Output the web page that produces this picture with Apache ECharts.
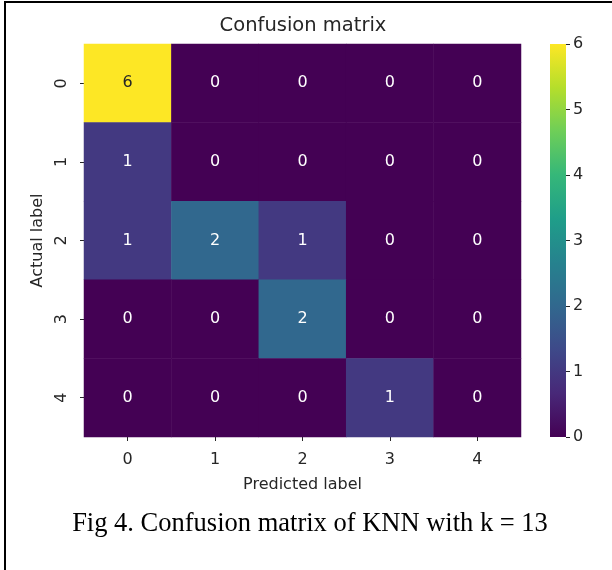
<!DOCTYPE html>
<html>
<head>
<meta charset="utf-8">
<script src="https://cdn.jsdelivr.net/npm/echarts@6/dist/echarts.min.js"></script>
<style>
  html, body { margin: 0; padding: 0; background: #fff; }
  #chart { width: 612px; height: 570px; }
  #frame { position: absolute; left: 4px; top: 1px; width: 620px; height: 580px;
           border-top: 2px solid #000; border-left: 2px solid #000; pointer-events: none; }
</style>
</head>
<body>
<div id="chart"></div>
<div id="frame"></div>
<script>
// Confusion matrix of the KNN classifier (rows: actual, columns: predicted)
const predictedLabels = ['0', '1', '2', '3', '4'];
const actualLabels = ['0', '1', '2', '3', '4'];
const matrix = [
  [6, 0, 0, 0, 0],
  [1, 0, 0, 0, 0],
  [1, 2, 1, 0, 0],
  [0, 0, 2, 0, 0],
  [0, 0, 0, 1, 0]
];
const colorbarTicks = [0, 1, 2, 3, 4, 5, 6];
const titleText = 'Confusion matrix';
const captionText = 'Fig 4. Confusion matrix of KNN with k = 13';

// viridis palette, evenly spaced
const viridis = ['#440154', '#482878', '#3e4989', '#31688e', '#26828e',
                 '#1f9e89', '#35b779', '#6ece58', '#b5de2b', '#fde725'];

const cMin = colorbarTicks[0];
const cMax = colorbarTicks[colorbarTicks.length - 1];

const cells = [];
matrix.forEach((row, r) => {
  row.forEach((v, c) => {
    cells.push({
      value: [c, r, v],
      label: { color: (v - cMin) / (cMax - cMin) > 0.6 ? '#262626' : '#ffffff' }
    });
  });
});

const textColor = '#262626';
const sans = 'DejaVu Sans';

const chart = echarts.init(document.getElementById('chart'), null, { renderer: 'canvas' });

const gradStops = viridis.map((c, i) => ({ offset: i / (viridis.length - 1), color: c }));

chart.setOption({
  animation: false,
  backgroundColor: '#ffffff',
  grid: [
    { left: 84, top: 44, width: 437, height: 393 },
    { left: 550, top: 44, width: 16, height: 393 }
  ],
  xAxis: [
    {
      gridIndex: 0, type: 'category', data: predictedLabels,
      axisLine: { show: false },
      axisTick: { show: true, alignWithLabel: true, length: 4, lineStyle: { color: textColor } },
      axisLabel: { margin: 15, fontSize: 16, fontFamily: sans, color: textColor },
      splitLine: { show: false },
      name: 'Predicted label', nameLocation: 'middle', nameGap: 40,
      nameTextStyle: { fontSize: 16, fontFamily: sans, color: textColor }
    },
    { gridIndex: 1, type: 'category', data: ['scale'], show: false }
  ],
  yAxis: [
    {
      gridIndex: 0, type: 'category', data: actualLabels, inverse: true,
      axisLine: { show: false },
      axisTick: { show: true, alignWithLabel: true, length: 4, lineStyle: { color: textColor } },
      axisLabel: { margin: 14, rotate: 90, fontSize: 16, fontFamily: sans, color: textColor },
      splitLine: { show: false },
      name: 'Actual label', nameLocation: 'middle', nameGap: 30, nameRotate: 90,
      nameTextStyle: { fontSize: 16, fontFamily: sans, color: textColor }
    },
    {
      gridIndex: 1, type: 'value', position: 'right', min: cMin, max: cMax, interval: 1,
      axisLine: { show: false },
      axisTick: { show: true, length: 4, lineStyle: { color: textColor } },
      axisLabel: { margin: 7, fontSize: 16, fontFamily: sans, color: textColor },
      splitLine: { show: false }
    }
  ],
  visualMap: {
    show: false, type: 'continuous', min: cMin, max: cMax, dimension: 2, seriesIndex: 0,
    inRange: { color: viridis }
  },
  series: [
    {
      type: 'heatmap', xAxisIndex: 0, yAxisIndex: 0, data: cells,
      label: { show: true, fontSize: 16, fontFamily: sans },
      itemStyle: { borderWidth: 0 },
      emphasis: { disabled: true }
    },
    {
      type: 'bar', xAxisIndex: 1, yAxisIndex: 1, data: [cMax], barWidth: '100%',
      itemStyle: { color: new echarts.graphic.LinearGradient(0, 1, 0, 0, gradStops) },
      silent: true
    }
  ],
  graphic: [
    {
      type: 'text',
      style: { text: titleText, x: 303, y: 26, textAlign: 'center', textVerticalAlign: 'middle',
               font: '19.5px "DejaVu Sans"', fill: textColor }
    },
    {
      type: 'text',
      style: { text: captionText, x: 310, y: 524, textAlign: 'center', textVerticalAlign: 'middle',
               font: '26.5px "Liberation Serif"', fill: '#000000' }
    }
  ]
});
</script>
</body>
</html>
